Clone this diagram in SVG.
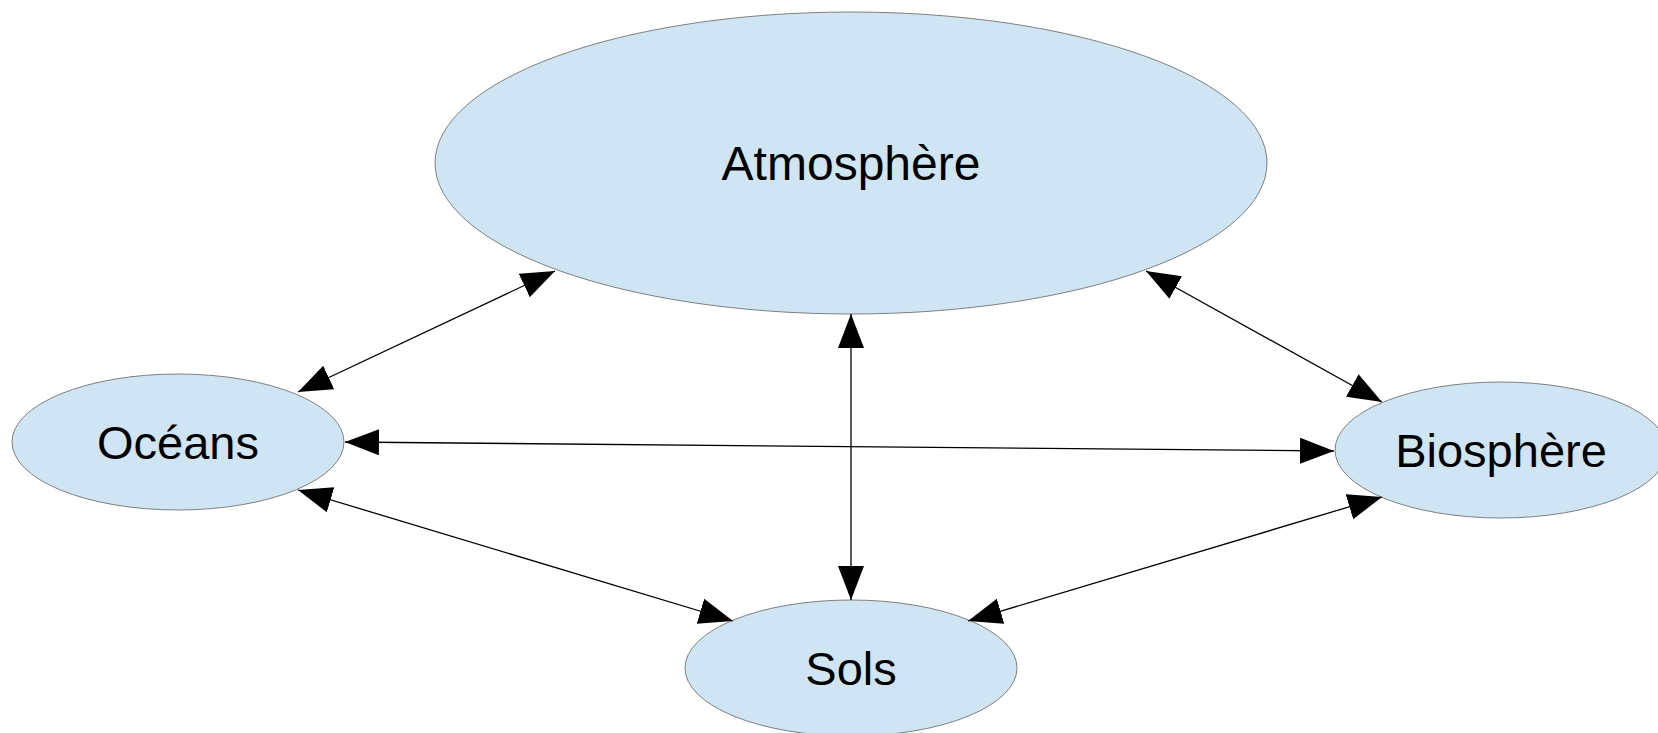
<svg xmlns="http://www.w3.org/2000/svg" width="1658" height="733" viewBox="0 0 1658 733">
<style>
.node{fill:#cfe5f3;stroke:#7f7f7f;stroke-width:1}
.lbl{font-family:"Liberation Sans",Arial,sans-serif;font-size:47px;fill:#000;text-anchor:middle}
.big{font-size:48px}
.conn{stroke:#000;stroke-width:1.3;fill:none;marker-start:url(#ah);marker-end:url(#ah)}
</style>
<defs>
<marker id="ah" markerUnits="userSpaceOnUse" markerWidth="35" markerHeight="27" refX="34" refY="13" orient="auto-start-reverse">
<path d="M0,0 L34,13 L0,26 z" fill="#000"/>
</marker>
</defs>
<rect width="1658" height="733" fill="#fff"/>
<g id="atmosphere"><ellipse class="node" cx="851" cy="163" rx="416" ry="151"/><text class="lbl big" x="851" y="180">Atmosphère</text></g>
<g id="oceans"><ellipse class="node" cx="178" cy="442" rx="166" ry="68"/><text class="lbl" x="178" y="459">Océans</text></g>
<g id="biosphere"><ellipse class="node" cx="1501" cy="450" rx="166" ry="68"/><text class="lbl" x="1501" y="467">Biosphère</text></g>
<g id="sols"><ellipse class="node" cx="851" cy="668" rx="166" ry="68"/><text class="lbl" x="851" y="685">Sols</text></g>
<g id="connectors">
<line class="conn" x1="298" y1="392" x2="555" y2="271"/>
<line class="conn" x1="1146" y1="271" x2="1382" y2="402"/>
<line class="conn" x1="851" y1="314" x2="851" y2="600"/>
<line class="conn" x1="345" y1="442" x2="1334" y2="451"/>
<line class="conn" x1="298" y1="490" x2="733" y2="621"/>
<line class="conn" x1="1382" y1="497" x2="968" y2="621"/>
</g>
</svg>
